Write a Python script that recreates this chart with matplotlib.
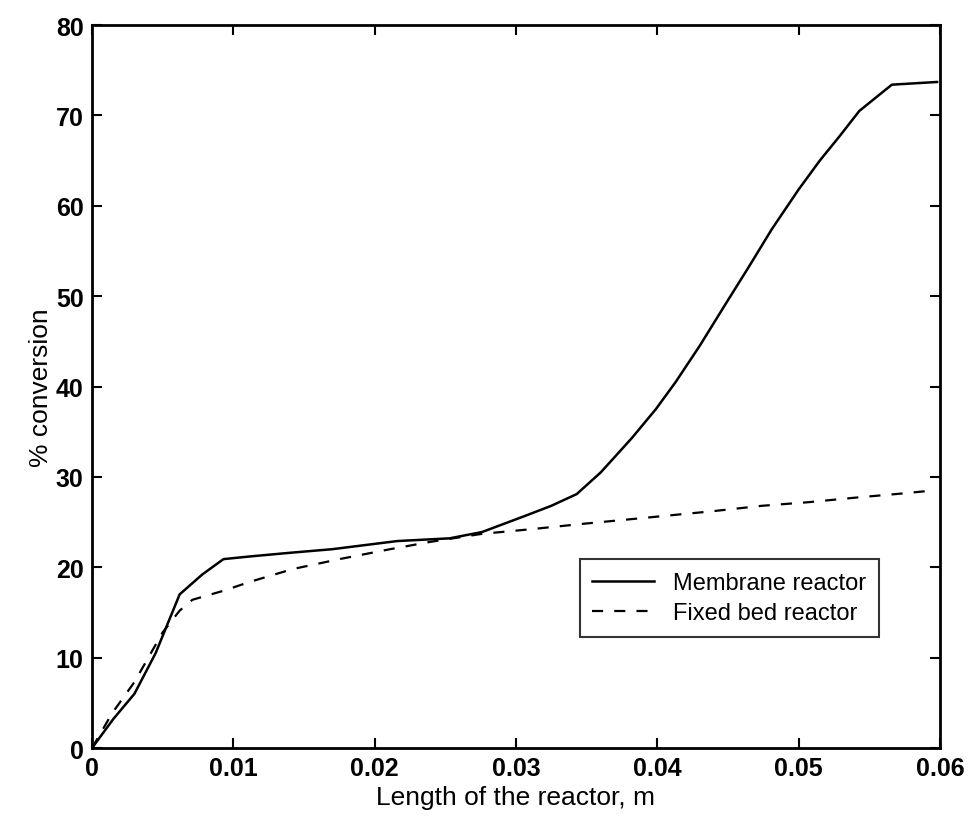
import matplotlib
matplotlib.use("Agg")
import matplotlib.pyplot as plt

# Values
membrane_x = [0.0, 0.0015, 0.003, 0.0045, 0.0062, 0.0078, 0.0093, 0.0112, 0.014, 0.017,
              0.0216, 0.0253, 0.0276, 0.0305, 0.0325, 0.0343, 0.036, 0.0382, 0.0399,
              0.0413, 0.043, 0.0449, 0.0465, 0.0481, 0.05, 0.0515, 0.0529, 0.0543,
              0.0562, 0.0566, 0.0598]
membrane_y = [0.0, 3.2, 6.0, 10.5, 17.0, 19.2, 20.9, 21.2, 21.6, 22.0,
              22.9, 23.2, 23.9, 25.6, 26.8, 28.1, 30.5, 34.3, 37.5,
              40.5, 44.5, 49.3, 53.3, 57.4, 61.8, 65.0, 67.7, 70.5,
              72.9, 73.4, 73.7]

fixed_x = [0.0, 0.0014, 0.003, 0.005, 0.0062, 0.0071, 0.0093, 0.0112, 0.0142, 0.0175,
           0.0211, 0.0239, 0.0276, 0.031, 0.0347, 0.038, 0.0439, 0.0474, 0.0507,
           0.054, 0.0576, 0.0595]
fixed_y = [0.0, 3.8, 7.3, 12.8, 15.2, 16.4, 17.4, 18.4, 19.8, 20.9,
           22.0, 22.8, 23.7, 24.2, 24.8, 25.3, 26.2, 26.8, 27.2,
           27.7, 28.2, 28.5]

x_ticks = [0, 0.01, 0.02, 0.03, 0.04, 0.05, 0.06]
x_tick_labels = ["0", "0.01", "0.02", "0.03", "0.04", "0.05", "0.06"]
y_ticks = [0, 10, 20, 30, 40, 50, 60, 70, 80]

plt.rcParams["font.family"] = ["Liberation Sans Narrow", "Liberation Sans", "DejaVu Sans"]

fig = plt.figure(figsize=(9.72, 8.29), dpi=100)
ax = fig.add_axes([0.0947, 0.0965, 0.8723, 0.8721])

ax.plot(membrane_x, membrane_y, color="black", lw=1.8, label="Membrane reactor")
ax.plot(fixed_x, fixed_y, color="black", lw=1.6, dashes=(5, 5), label="Fixed bed reactor")

ax.set_xlim(0, 0.06)
ax.set_ylim(0, 80)
ax.set_xticks(x_ticks)
ax.set_xticklabels(x_tick_labels)
ax.set_yticks(y_ticks)
ax.tick_params(direction="in", length=7, width=1.5, top=True, right=True,
               labelsize=18, pad=6)
for lbl in ax.get_xticklabels() + ax.get_yticklabels():
    lbl.set_fontweight("bold")
for sp in ax.spines.values():
    sp.set_linewidth(2)

ax.set_xlabel("Length of the reactor, m", fontsize=19, labelpad=3)
ax.set_ylabel("% conversion", fontsize=19, labelpad=2)

leg = ax.legend(loc="lower left", bbox_to_anchor=(0.561, 0.137), fontsize=17,
                frameon=True, fancybox=False, edgecolor="black", handlelength=2.6,
                borderpad=0.55, labelspacing=0.35, handletextpad=0.8)
leg.get_frame().set_linewidth(1.5)

fig.savefig("out.png", dpi=100)
